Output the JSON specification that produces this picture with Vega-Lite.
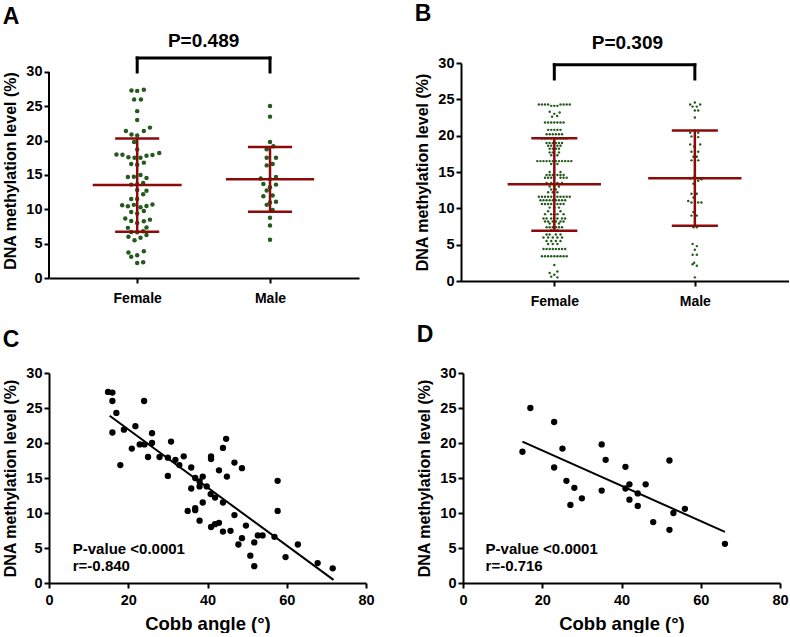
{
"$schema": "https://vega.github.io/schema/vega-lite/v6.json",
"background": "white",
"padding": {"left": 2, "top": 3, "right": 0, "bottom": 0},
"config": {
 "view": {"stroke": null},
 "font": "Liberation Sans",
 "axis": {"grid": false, "domainColor": "#000", "domainWidth": 2, "tickColor": "#000", "tickWidth": 2, "tickSize": 5, "labelColor": "#000", "labelFont": "Liberation Sans", "labelFontSize": 14.5, "labelFontWeight": "bold", "titleColor": "#000", "titleFont": "Liberation Sans", "titleFontSize": 16, "titleFontWeight": "bold", "labelFlush": false},
 "axisY": {"labelPadding": 2, "titlePadding": 7},
 "title": {"fontSize": 23, "fontWeight": "bold", "anchor": "start", "frame": "bounds", "font": "Liberation Sans", "color": "#000"}
},
"datasets": {
 "aPts": [
  {"x":0.957,"y":27.3},{"x":1.0,"y":27.25},{"x":1.05,"y":27.4},
  {"x":0.977,"y":26.0},{"x":1.028,"y":26.0},
  {"x":1.0,"y":24.3},{"x":1.0,"y":23.0},
  {"x":0.915,"y":21.4},{"x":0.957,"y":20.9},{"x":1.0,"y":20.75},{"x":1.05,"y":21.4},{"x":1.096,"y":21.9},
  {"x":0.977,"y":19.8},{"x":1.0,"y":18.7},
  {"x":0.844,"y":18.0},{"x":0.889,"y":17.95},{"x":0.934,"y":17.6},{"x":0.98,"y":17.5},{"x":1.025,"y":17.5},{"x":1.07,"y":17.8},{"x":1.115,"y":17.9},{"x":1.166,"y":18.2},
  {"x":0.955,"y":16.6},{"x":1.0,"y":16.5},{"x":1.05,"y":16.8},
  {"x":0.93,"y":14.7},{"x":0.975,"y":14.75},{"x":1.025,"y":15.0},{"x":1.07,"y":14.55},
  {"x":0.955,"y":13.6},{"x":1.0,"y":13.65},{"x":1.045,"y":13.85},
  {"x":1.0,"y":12.8},{"x":1.07,"y":12.7},{"x":1.045,"y":12.2},
  {"x":0.955,"y":11.5},{"x":1.0,"y":11.5},
  {"x":0.887,"y":10.6},{"x":0.93,"y":10.45},{"x":0.975,"y":10.65},{"x":1.025,"y":10.3},{"x":1.07,"y":10.5},{"x":1.115,"y":10.7},
  {"x":1.0,"y":9.4},{"x":1.05,"y":9.75},{"x":0.955,"y":9.6},
  {"x":0.91,"y":8.65},{"x":0.955,"y":8.3},{"x":1.0,"y":8.0},{"x":1.05,"y":8.25},{"x":1.096,"y":8.5},
  {"x":0.93,"y":7.3},{"x":1.07,"y":7.35},
  {"x":0.955,"y":6.7},{"x":1.0,"y":6.65},{"x":1.045,"y":6.8},
  {"x":0.934,"y":6.0},{"x":1.025,"y":5.85},{"x":1.07,"y":6.25},
  {"x":0.98,"y":5.5},
  {"x":0.934,"y":3.7},{"x":1.05,"y":3.9},
  {"x":0.955,"y":3.1},{"x":1.0,"y":3.3},
  {"x":1.0,"y":2.2},{"x":1.045,"y":2.3},
  {"x":2.0,"y":25.05},{"x":2.0,"y":23.5},{"x":2.0,"y":19.8},{"x":2.025,"y":19.2},{"x":1.975,"y":18.75},{"x":1.975,"y":17.5},{"x":2.045,"y":17.5},{"x":1.975,"y":16.4},{"x":2.02,"y":16.6},{"x":1.93,"y":14.5},{"x":2.0,"y":14.4},{"x":2.045,"y":14.7},{"x":1.95,"y":13.7},{"x":2.045,"y":13.6},{"x":2.0,"y":13.2},{"x":1.975,"y":12.75},{"x":1.95,"y":11.9},{"x":2.02,"y":12.0},{"x":2.0,"y":11.0},{"x":2.045,"y":11.1},{"x":1.975,"y":10.65},{"x":2.02,"y":9.9},{"x":2.0,"y":8.77},{"x":2.0,"y":7.65},{"x":2.0,"y":5.57}
 ],
 "aBars": [
  {"x":0.665,"x2":1.335,"y":13.54,"y2":13.54},{"x":0.834,"x2":1.166,"y":20.3,"y2":20.3},{"x":0.834,"x2":1.166,"y":6.74,"y2":6.74},{"x":1,"x2":1,"y":6.74,"y2":20.3},
  {"x":1.668,"x2":2.332,"y":14.37,"y2":14.37},{"x":1.834,"x2":2.166,"y":19.07,"y2":19.07},{"x":1.834,"x2":2.166,"y":9.65,"y2":9.65},{"x":2,"x2":2,"y":9.65,"y2":19.07}
 ],
 "aBracket": [
  {"x":1,"x2":2,"y":32.04,"y2":32.04},{"x":1,"x2":1,"y":30.0,"y2":32.04},{"x":2,"x2":2,"y":30.0,"y2":32.04}
 ],
 "aAxis": [{"x":0.336,"y":0,"y2":30}],
 "aText": [{"x":1.5,"y":34.5,"t":"P=0.489"}],
 "bPts": [
  {"x":0.89,"y":24.3},{"x":0.912,"y":24.3},{"x":0.934,"y":24.3},{"x":0.956,"y":24.3},{"x":0.978,"y":24.1},{"x":1.0,"y":24.1},{"x":1.022,"y":24.1},{"x":1.044,"y":24.3},{"x":1.066,"y":24.3},{"x":1.088,"y":24.3},{"x":1.11,"y":24.3},
  {"x":0.967,"y":23.3},{"x":1.0,"y":23.0},{"x":1.038,"y":23.2},{"x":0.984,"y":22.6},{"x":1.02,"y":22.7},
  {"x":0.934,"y":21.8},{"x":0.956,"y":21.8},{"x":0.978,"y":21.8},{"x":1.0,"y":21.8},{"x":1.022,"y":21.8},{"x":1.044,"y":21.8},{"x":1.066,"y":21.8},
  {"x":0.956,"y":20.8},{"x":0.978,"y":20.8},{"x":1.0,"y":20.8},{"x":1.022,"y":20.8},{"x":1.044,"y":20.8},
  {"x":0.945,"y":20.2},{"x":0.967,"y":20.2},{"x":0.989,"y":20.2},{"x":1.011,"y":20.2},{"x":1.033,"y":20.2},{"x":1.055,"y":20.2},
  {"x":0.912,"y":19.6},{"x":0.934,"y":19.6},{"x":0.956,"y":19.6},{"x":0.978,"y":19.6},{"x":1.022,"y":19.6},{"x":1.044,"y":19.6},{"x":1.066,"y":19.6},{"x":1.088,"y":19.6},
  {"x":0.945,"y":19.0},{"x":0.967,"y":19.0},{"x":0.989,"y":19.0},{"x":1.011,"y":19.0},{"x":1.033,"y":19.0},{"x":1.055,"y":19.0},
  {"x":0.956,"y":18.6},{"x":0.978,"y":18.6},{"x":1.022,"y":18.6},{"x":1.044,"y":18.6},
  {"x":0.967,"y":18.2},{"x":0.989,"y":18.2},{"x":1.011,"y":18.2},{"x":1.033,"y":18.2},
  {"x":0.967,"y":17.7},{"x":0.989,"y":17.7},{"x":1.033,"y":17.7},
  {"x":0.978,"y":17.3},{"x":1.022,"y":17.3},
  {"x":0.879,"y":16.5},{"x":0.901,"y":16.5},{"x":0.923,"y":16.5},{"x":0.945,"y":16.5},{"x":0.967,"y":16.5},{"x":0.989,"y":16.5},{"x":1.011,"y":16.5},{"x":1.033,"y":16.5},{"x":1.055,"y":16.5},{"x":1.077,"y":16.5},{"x":1.099,"y":16.5},{"x":1.121,"y":16.5},
  {"x":0.978,"y":16.1},{"x":1.022,"y":16.1},
  {"x":0.967,"y":15.0},{"x":1.044,"y":15.0},
  {"x":0.945,"y":14.6},{"x":0.967,"y":14.6},{"x":0.989,"y":14.6},{"x":1.022,"y":14.6},{"x":1.044,"y":14.6},{"x":1.066,"y":14.6},
  {"x":0.934,"y":14.2},{"x":0.956,"y":14.2},{"x":0.978,"y":14.2},{"x":1.0,"y":14.2},{"x":1.044,"y":14.2},{"x":1.066,"y":14.2},{"x":1.088,"y":14.2},
  {"x":0.945,"y":13.5},{"x":0.978,"y":13.5},{"x":1.022,"y":13.5},{"x":1.055,"y":13.5},
  {"x":0.967,"y":13.0},{"x":1.0,"y":13.0},{"x":1.033,"y":13.0},
  {"x":0.978,"y":12.6},{"x":1.011,"y":12.6},
  {"x":0.956,"y":12.2},{"x":0.989,"y":12.2},{"x":1.022,"y":12.2},
  {"x":0.89,"y":11.6},{"x":0.912,"y":11.6},{"x":0.934,"y":11.6},{"x":0.956,"y":11.6},{"x":0.978,"y":11.6},{"x":1.022,"y":11.6},{"x":1.044,"y":11.6},{"x":1.066,"y":11.6},{"x":1.088,"y":11.6},{"x":1.11,"y":11.6},
  {"x":0.901,"y":11.1},{"x":0.923,"y":11.1},{"x":0.945,"y":11.1},{"x":0.967,"y":11.1},{"x":0.989,"y":11.1},{"x":1.011,"y":11.1},{"x":1.033,"y":11.1},{"x":1.055,"y":11.1},{"x":1.077,"y":11.1},
  {"x":0.912,"y":10.6},{"x":0.934,"y":10.6},{"x":0.956,"y":10.6},{"x":0.978,"y":10.6},{"x":1.022,"y":10.6},{"x":1.044,"y":10.6},{"x":1.066,"y":10.6},
  {"x":0.967,"y":10.1},{"x":1.0,"y":10.1},{"x":1.033,"y":10.1},
  {"x":0.956,"y":9.6},{"x":1.044,"y":9.6},
  {"x":0.934,"y":9.2},{"x":0.978,"y":9.2},{"x":1.0,"y":9.2},{"x":1.022,"y":9.2},{"x":1.066,"y":9.2},
  {"x":0.923,"y":8.6},{"x":0.945,"y":8.6},{"x":0.978,"y":8.6},{"x":1.022,"y":8.6},{"x":1.055,"y":8.6},{"x":1.077,"y":8.6},
  {"x":0.934,"y":8.2},{"x":0.956,"y":8.2},{"x":0.989,"y":8.2},{"x":1.011,"y":8.2},{"x":1.044,"y":8.2},{"x":1.066,"y":8.2},
  {"x":0.967,"y":7.9},{"x":1.033,"y":7.9},
  {"x":0.945,"y":7.4},{"x":0.967,"y":7.4},{"x":0.989,"y":7.4},{"x":1.011,"y":7.4},{"x":1.033,"y":7.4},{"x":1.055,"y":7.4},
  {"x":0.978,"y":7.0},{"x":1.022,"y":7.0},
  {"x":0.945,"y":6.4},{"x":0.967,"y":6.4},{"x":1.011,"y":6.4},{"x":1.044,"y":6.4},
  {"x":0.923,"y":6.0},{"x":0.956,"y":6.0},{"x":0.989,"y":6.0},{"x":1.022,"y":6.0},{"x":1.055,"y":6.0},
  {"x":0.945,"y":5.5},{"x":0.978,"y":5.5},{"x":1.011,"y":5.5},{"x":1.044,"y":5.5},
  {"x":0.956,"y":5.1},{"x":0.989,"y":5.1},{"x":1.022,"y":5.1},
  {"x":0.923,"y":4.4},{"x":0.945,"y":4.4},{"x":0.967,"y":4.4},{"x":0.989,"y":4.4},{"x":1.011,"y":4.4},{"x":1.033,"y":4.4},{"x":1.055,"y":4.4},{"x":1.077,"y":4.4},
  {"x":0.912,"y":3.4},{"x":0.934,"y":3.4},{"x":0.956,"y":3.4},{"x":0.978,"y":3.4},{"x":1.0,"y":3.4},{"x":1.022,"y":3.4},{"x":1.044,"y":3.4},{"x":1.066,"y":3.4},{"x":1.088,"y":3.4},
  {"x":1.0,"y":2.2},
  {"x":0.967,"y":1.1},{"x":0.978,"y":0.6},{"x":1.0,"y":0.85},{"x":1.022,"y":1.3},{"x":1.022,"y":0.5},
  {"x":1.967,"y":24.3},{"x":2.0,"y":24.56},{"x":2.038,"y":24.3},{"x":1.984,"y":24.0},{"x":2.014,"y":24.0},{"x":2.0,"y":23.46},{"x":2.024,"y":23.46},
  {"x":2.0,"y":22.5},
  {"x":2.0,"y":20.7},{"x":1.967,"y":20.4},{"x":2.024,"y":20.4},{"x":1.976,"y":19.9},{"x":2.024,"y":19.8},
  {"x":1.967,"y":18.8},{"x":2.038,"y":18.8},{"x":1.995,"y":18.5},
  {"x":1.976,"y":17.8},{"x":2.024,"y":17.8},
  {"x":1.99,"y":17.1},{"x":2.014,"y":17.1},{"x":1.976,"y":16.6},{"x":2.024,"y":16.6},
  {"x":2.0,"y":14.46},{"x":1.967,"y":14.1},{"x":1.99,"y":14.2},{"x":2.024,"y":13.8},{"x":2.047,"y":14.0},{"x":1.99,"y":13.4},
  {"x":1.976,"y":12.0},{"x":2.014,"y":12.0},{"x":1.99,"y":11.5},{"x":1.953,"y":11.0},{"x":1.976,"y":10.8},{"x":2.024,"y":10.8},{"x":2.047,"y":10.8},
  {"x":1.99,"y":9.5},{"x":1.976,"y":9.0},{"x":2.014,"y":9.0},
  {"x":1.99,"y":7.4},{"x":2.014,"y":7.4},
  {"x":1.984,"y":5.1},{"x":2.014,"y":4.8},{"x":2.0,"y":4.3},{"x":1.984,"y":3.6},{"x":2.014,"y":3.6},
  {"x":1.995,"y":2.5},{"x":1.984,"y":2.3},{"x":2.014,"y":2.1},
  {"x":2.0,"y":0.5}
 ],
 "bBars": [
  {"x":0.668,"x2":1.332,"y":13.3,"y2":13.3},{"x":0.836,"x2":1.164,"y":19.65,"y2":19.65},{"x":0.836,"x2":1.164,"y":6.93,"y2":6.93},{"x":1,"x2":1,"y":6.93,"y2":19.65},
  {"x":1.668,"x2":2.332,"y":14.15,"y2":14.15},{"x":1.836,"x2":2.164,"y":20.7,"y2":20.7},{"x":1.836,"x2":2.164,"y":7.62,"y2":7.62},{"x":2,"x2":2,"y":7.62,"y2":20.7}
 ],
 "bBracket": [
  {"x":1,"x2":2,"y":29.75,"y2":29.75},{"x":1,"x2":1,"y":27.8,"y2":29.75},{"x":2,"x2":2,"y":27.8,"y2":29.75}
 ],
 "bText": [{"x":1.52,"y":32.7,"t":"P=0.309"}],
 "cPts": [
  {"x":14.9,"y":27.3},{"x":16.0,"y":27.2},{"x":16.0,"y":26.0},{"x":17.0,"y":24.3},{"x":16.0,"y":21.5},{"x":18.9,"y":21.9},{"x":18.0,"y":16.85},{"x":21.8,"y":22.4},{"x":20.9,"y":19.2},{"x":24.0,"y":26.0},{"x":22.9,"y":19.8},{"x":24.1,"y":19.8},{"x":26.0,"y":21.4},{"x":26.0,"y":20.0},{"x":25.0,"y":18.0},{"x":27.9,"y":18.0},{"x":30.8,"y":20.2},{"x":30.0,"y":17.9},{"x":30.0,"y":15.3},{"x":31.9,"y":17.6},{"x":32.9,"y":16.85},{"x":34.0,"y":18.1},{"x":35.9,"y":16.5},{"x":35.9,"y":13.5},{"x":35.0,"y":10.3},{"x":36.9,"y":10.4},{"x":36.9,"y":10.7},{"x":36.9,"y":15.0},{"x":38.0,"y":14.5},{"x":38.8,"y":15.2},{"x":38.0,"y":13.8},{"x":38.8,"y":11.5},{"x":38.0,"y":8.9},{"x":39.8,"y":13.8},{"x":40.8,"y":12.7},{"x":40.9,"y":18.1},{"x":40.9,"y":17.7},{"x":41.9,"y":12.2},{"x":42.9,"y":16.1},{"x":40.9,"y":8.0},{"x":41.9,"y":8.4},{"x":42.9,"y":8.6},{"x":43.9,"y":19.3},{"x":44.7,"y":20.6},{"x":44.9,"y":15.2},{"x":43.9,"y":11.5},{"x":43.9,"y":7.35},{"x":46.8,"y":17.2},{"x":46.8,"y":9.7},{"x":45.8,"y":7.45},{"x":48.7,"y":16.4},{"x":49.7,"y":8.2},{"x":47.8,"y":5.5},{"x":48.7,"y":6.4},{"x":50.8,"y":3.9},{"x":51.8,"y":5.8},{"x":51.8,"y":2.4},{"x":52.7,"y":6.8},{"x":53.9,"y":6.8},{"x":56.9,"y":6.6},{"x":57.7,"y":14.6},{"x":57.7,"y":10.3},{"x":59.7,"y":3.7},{"x":62.8,"y":5.5},{"x":67.8,"y":2.85},{"x":71.6,"y":2.1}
 ],
 "cLine": [{"x":15.3,"y":23.9},{"x":71.8,"y":0.45}],
 "cText": [{"x":6.0,"y":4.84,"t":"P-value <0.0001"},{"x":6.0,"y":2.47,"t":"r=-0.840"}],
 "dPts": [
  {"x":15.0,"y":18.75},{"x":17.0,"y":25.0},{"x":23.0,"y":23.0},{"x":23.0,"y":16.5},{"x":25.1,"y":19.2},{"x":26.1,"y":14.6},{"x":28.1,"y":13.6},{"x":27.1,"y":11.15},{"x":30.0,"y":12.1},{"x":35.0,"y":19.8},{"x":36.0,"y":17.6},{"x":35.0,"y":13.2},{"x":41.0,"y":16.6},{"x":41.0,"y":13.5},{"x":42.0,"y":14.1},{"x":42.0,"y":11.9},{"x":44.1,"y":12.8},{"x":44.1,"y":11.0},{"x":46.1,"y":14.1},{"x":48.0,"y":8.7},{"x":52.1,"y":17.5},{"x":52.1,"y":7.6},{"x":53.1,"y":10.0},{"x":56.0,"y":10.6},{"x":66.1,"y":5.6}
 ],
 "dLine": [{"x":15.0,"y":20.2},{"x":66.1,"y":7.3}],
 "dText": [{"x":5.7,"y":4.84,"t":"P-value <0.0001"},{"x":5.7,"y":2.47,"t":"r=-0.716"}]
},
"spacing": 16,
"vconcat": [
 {"spacing": 55, "hconcat": [
  {"title": {"text": "A", "offset": 3},
   "width": 310, "height": 215,
   "encoding": {
    "x": {"field": "x", "type": "quantitative", "scale": {"domain": [0.336, 2.67], "nice": false, "zero": false}, "axis": {"values": [1, 2], "labelExpr": "datum.value == 1 ? 'Female' : 'Male'", "title": null, "labelPadding": 8, "labelFontSize": 14}},
    "y": {"field": "y", "type": "quantitative", "scale": {"domain": [0, 31.31], "nice": false}, "axis": {"values": [0, 5, 10, 15, 20, 25, 30], "domain": false, "title": "DNA methylation level (%)"}}
   },
   "layer": [
    {"data": {"name": "aPts"}, "mark": {"type": "circle", "size": 20, "opacity": 1, "color": "#245a1e"}},
    {"data": {"name": "aBars"}, "mark": {"type": "rule", "color": "#8b0a0a", "strokeWidth": 2.5}, "encoding": {"x2": {"field": "x2"}, "y2": {"field": "y2"}}},
    {"data": {"name": "aBracket"}, "mark": {"type": "rule", "color": "#000", "strokeWidth": 3, "strokeCap": "square"}, "encoding": {"x2": {"field": "x2"}, "y2": {"field": "y2"}}},
    {"data": {"name": "aAxis"}, "mark": {"type": "rule", "color": "#000", "strokeWidth": 2}, "encoding": {"y2": {"field": "y2"}}},
    {"data": {"name": "aText"}, "mark": {"type": "text", "fontSize": 19, "fontWeight": "bold", "color": "#000"}, "encoding": {"text": {"field": "t"}}}
   ]
  },
  {"title": {"text": "B", "offset": 8},
   "width": 328, "height": 218,
   "encoding": {
    "x": {"field": "x", "type": "quantitative", "scale": {"domain": [0.336, 2.67], "nice": false, "zero": false}, "axis": {"values": [1, 2], "labelExpr": "datum.value == 1 ? 'Female' : 'Male'", "title": null, "labelPadding": 8, "labelFontSize": 14}},
    "y": {"field": "y", "type": "quantitative", "scale": {"domain": [0, 30], "nice": false}, "axis": {"values": [0, 5, 10, 15, 20, 25, 30], "title": "DNA methylation level (%)"}}
   },
   "layer": [
    {"data": {"name": "bPts"}, "mark": {"type": "circle", "size": 6, "opacity": 1, "color": "#245a1e"}},
    {"data": {"name": "bBars"}, "mark": {"type": "rule", "color": "#8b0a0a", "strokeWidth": 2.5}, "encoding": {"x2": {"field": "x2"}, "y2": {"field": "y2"}}},
    {"data": {"name": "bBracket"}, "mark": {"type": "rule", "color": "#000", "strokeWidth": 3, "strokeCap": "square"}, "encoding": {"x2": {"field": "x2"}, "y2": {"field": "y2"}}},
    {"data": {"name": "bText"}, "mark": {"type": "text", "fontSize": 19, "fontWeight": "bold", "color": "#000"}, "encoding": {"text": {"field": "t"}}}
   ]
  }
 ]},
 {"spacing": 41, "hconcat": [
  {"title": {"text": "C", "offset": 13},
   "width": 317, "height": 210,
   "encoding": {
    "x": {"field": "x", "type": "quantitative", "scale": {"domain": [0, 80], "nice": false}, "axis": {"values": [0, 20, 40, 60, 80], "title": "Cobb angle (°)", "titleFontSize": 18.5, "labelPadding": 5, "titlePadding": 8}},
    "y": {"field": "y", "type": "quantitative", "scale": {"domain": [0, 30], "nice": false}, "axis": {"values": [0, 5, 10, 15, 20, 25, 30], "title": "DNA methylation level (%)"}}
   },
   "layer": [
    {"data": {"name": "cPts"}, "mark": {"type": "circle", "size": 40, "opacity": 1, "color": "#000"}},
    {"data": {"name": "cLine"}, "mark": {"type": "line", "color": "#000", "strokeWidth": 2}},
    {"data": {"name": "cText"}, "mark": {"type": "text", "fontSize": 15, "fontWeight": "bold", "align": "left", "color": "#000"}, "encoding": {"text": {"field": "t"}}}
   ]
  },
  {"title": {"text": "D", "offset": 18},
   "width": 317, "height": 210,
   "encoding": {
    "x": {"field": "x", "type": "quantitative", "scale": {"domain": [0, 80], "nice": false}, "axis": {"values": [0, 20, 40, 60, 80], "title": "Cobb angle (°)", "titleFontSize": 18.5, "labelPadding": 5, "titlePadding": 8}},
    "y": {"field": "y", "type": "quantitative", "scale": {"domain": [0, 30], "nice": false}, "axis": {"values": [0, 5, 10, 15, 20, 25, 30], "title": "DNA methylation level (%)"}}
   },
   "layer": [
    {"data": {"name": "dPts"}, "mark": {"type": "circle", "size": 40, "opacity": 1, "color": "#000"}},
    {"data": {"name": "dLine"}, "mark": {"type": "line", "color": "#000", "strokeWidth": 2}},
    {"data": {"name": "dText"}, "mark": {"type": "text", "fontSize": 15, "fontWeight": "bold", "align": "left", "color": "#000"}, "encoding": {"text": {"field": "t"}}}
   ]
  }
 ]}
]
}
